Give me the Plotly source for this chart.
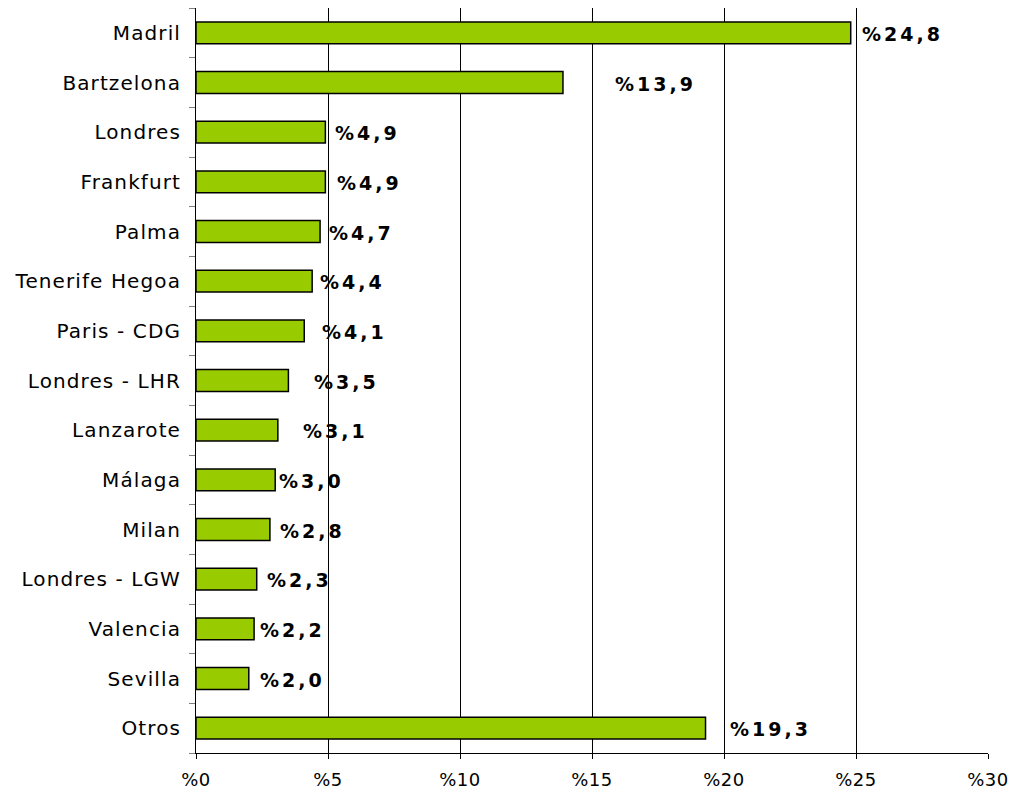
import plotly.graph_objects as go

categories = ["Madril", "Bartzelona", "Londres", "Frankfurt", "Palma", "Tenerife Hegoa",
              "Paris - CDG", "Londres - LHR", "Lanzarote", "Málaga", "Milan",
              "Londres - LGW", "Valencia", "Sevilla", "Otros"]
values = [24.8, 13.9, 4.9, 4.9, 4.7, 4.4, 4.1, 3.5, 3.1, 3.0, 2.8, 2.3, 2.2, 2.0, 19.3]
x_ticks = [0, 5, 10, 15, 20, 25, 30]
x_tick_labels = ["%0", "%5", "%10", "%15", "%20", "%25", "%30"]

# label pixel offsets from bar ends (style)
label_xshift = [9, 50, 8, 10, 7, 6, 16, 24, 23, 2, 8, 8, 4, 9, 22]

def fmt(v):
    return "%" + f"{v:.1f}".replace(".", ",")

def spaced(t, sp):
    return f'<span style="letter-spacing:{sp}px">{t}</span>'

fig = go.Figure()
fig.add_trace(go.Bar(
    y=categories, x=values, orientation="h",
    marker=dict(color="#99CC00", line=dict(color="#000000", width=1.5)),
    hoverinfo="skip",
))

for c, v, dx in zip(categories, values, label_xshift):
    fig.add_annotation(
        x=v, y=c, xref="x", yref="y", text=spaced(fmt(v), 3),
        showarrow=False, xanchor="left", yanchor="middle", xshift=dx, yshift=-1,
        font=dict(family="DejaVu Sans", size=19, color="#000000", weight="bold"),
    )

fig.update_layout(
    width=1011, height=788,
    margin=dict(l=188, r=31, t=0, b=43),
    plot_bgcolor="white", paper_bgcolor="white",
    bargap=0.56, showlegend=False,
    font=dict(family="DejaVu Sans", size=16, color="#000000"),
)
fig.update_xaxes(
    range=[0, 30], tickvals=x_ticks, ticktext=[spaced(t, 0.5) for t in x_tick_labels],
    showgrid=True, gridcolor="#000000", gridwidth=1,
    showline=True, linecolor="#000000", linewidth=1,
    ticks="outside", ticklen=5, tickcolor="#000000", ticklabelstandoff=5,
    tickfont=dict(size=18), zeroline=False, fixedrange=True, automargin=False,
)
fig.update_yaxes(
    autorange="reversed", tickvals=categories,
    ticktext=[spaced(c, 1.1) for c in categories],
    showline=True, linecolor="#000000", linewidth=1,
    ticks="outside", tickson="boundaries", ticklen=6, tickcolor="#808080",
    tickfont=dict(size=20), ticklabelstandoff=10, showgrid=False, automargin=False,
)

fig.write_html("out.html")
